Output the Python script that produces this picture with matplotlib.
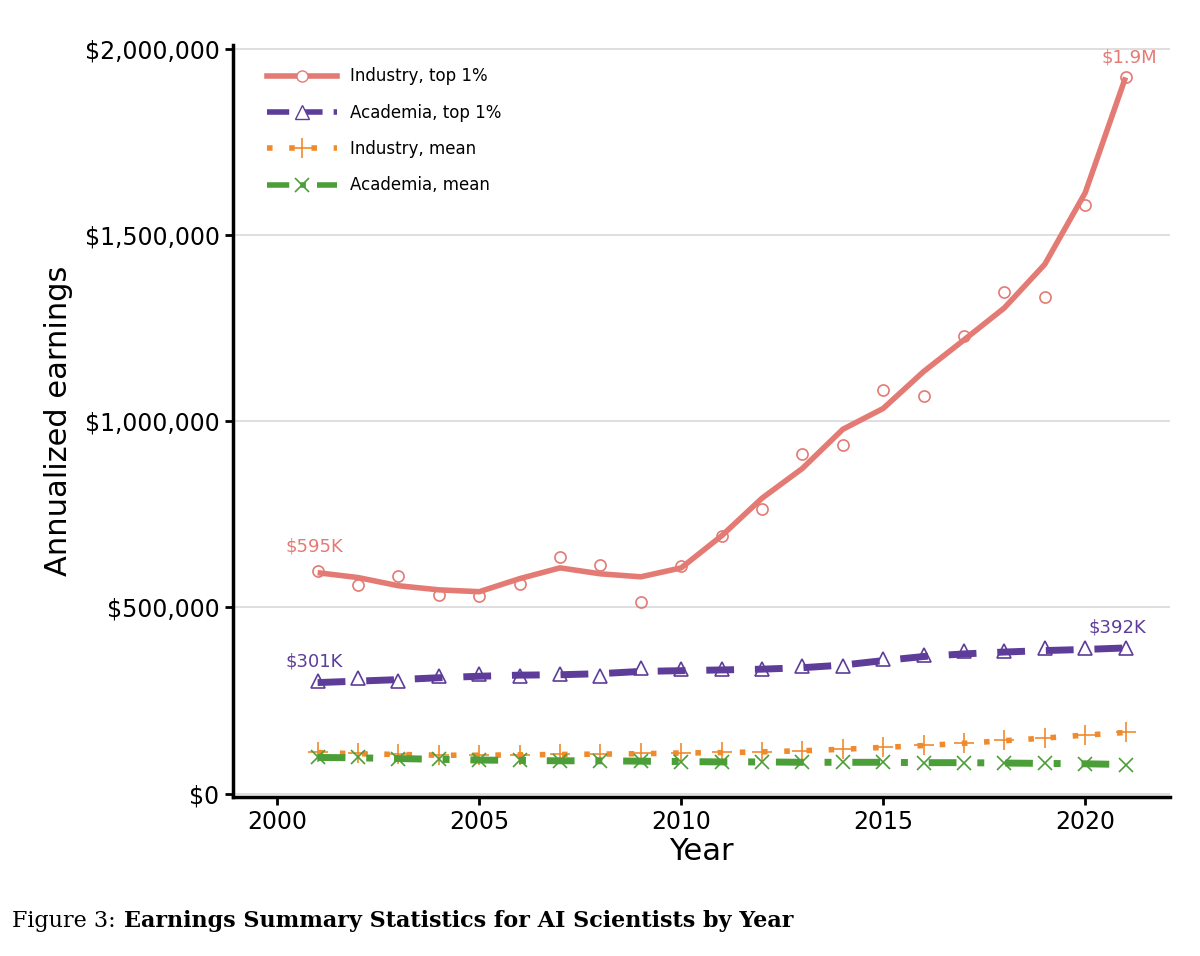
import matplotlib
matplotlib.use("Agg")
import matplotlib.pyplot as plt
from matplotlib.ticker import FuncFormatter
from matplotlib.lines import Line2D

years = list(range(2001, 2022))
ind_top_pts = [598, 561, 585, 534, 531, 563, 636, 614, 515, 611, 692, 764, 911, 935, 1084, 1068, 1228, 1348, 1332, 1581, 1923]
ind_top_line = [593, 580, 558, 547, 542, 577, 606, 590, 582, 606, 692, 793, 873, 978, 1034, 1133, 1218, 1304, 1421, 1613, 1923]
aca_top_pts = [301, 310, 301, 316, 320, 317, 322, 316, 337, 335, 335, 335, 342, 343, 362, 373, 383, 383, 390, 390, 392]
aca_top_line = [298, 302, 306, 311, 315, 318, 319, 322, 328, 330, 332, 334, 338, 345, 357, 368, 375, 380, 384, 387, 391]
ind_mean_pts = [112, 108, 105, 103, 103, 104, 105, 107, 108, 110, 111, 112, 115, 120, 125, 130, 137, 143, 150, 158, 165]
ind_mean_line = [110, 107, 105, 103, 103, 104, 105, 106, 107, 109, 110, 112, 115, 119, 124, 129, 135, 142, 149, 157, 164]
aca_mean_pts = [98, 97, 94, 92, 90, 89, 88, 88, 87, 86, 85, 85, 84, 84, 84, 83, 83, 82, 81, 80, 78]
aca_mean_line = [97, 96, 94, 92, 90, 89, 88, 88, 87, 86, 85, 85, 84, 84, 84, 83, 83, 82, 81, 80, 78]
labels = ["Industry, top 1%", "Academia, top 1%", "Industry, mean", "Academia, mean"]

def k(v): return [x * 1000 for x in v]

fig = plt.figure(figsize=(12, 9.56), dpi=100)
ax = fig.add_axes([0.194, 0.166, 0.781, 0.787])

c_red, c_pur, c_or, c_gr = "#E47A74", "#5E3C99", "#F08A2C", "#4C9F38"
handles = []
ax.plot(years, k(ind_top_line), color=c_red, lw=4, solid_capstyle="butt")
ax.plot(years, k(ind_top_pts), ls="none", marker="o", mfc="none", mec=c_red, ms=8, mew=1.2)
handles.append(Line2D([], [], color=c_red, lw=4, marker="o", mfc="white", mec=c_red, ms=8))
ax.plot(years, k(aca_top_line), color=c_pur, lw=5, ls=(0, (4, 3)))
ax.plot(years, k(aca_top_pts), ls="none", marker="^", mfc="none", mec=c_pur, ms=10, mew=1.2)
handles.append(Line2D([], [], color=c_pur, lw=4, ls=(0, (4, 2)), marker="^", mfc="white", mec=c_pur, ms=10))
ax.plot(years, k(ind_mean_line), color=c_or, lw=4, ls=(0, (1, 3)))
ax.plot(years, k(ind_mean_pts), ls="none", marker="+", color=c_or, ms=14, mew=1.2)
handles.append(Line2D([], [], color=c_or, lw=4, ls=(0, (1, 3)), marker="+", ms=14, mew=1.2))
ax.plot(years, k(aca_mean_line), color=c_gr, lw=5, ls=(0, (4, 3, 1, 3)))
ax.plot(years, k(aca_mean_pts), ls="none", marker="x", color=c_gr, ms=10, mew=1.2)
handles.append(Line2D([], [], color=c_gr, lw=4, ls=(0, (4, 2, 1, 2)), marker="x", ms=10, mew=1.2))

ax.legend(handles, labels, loc="upper left", bbox_to_anchor=(0.02, 0.99), frameon=False,
          fontsize=12, handlelength=4.2, labelspacing=1.1)

ax.text(years[0] - 0.8, ind_top_pts[0] * 1000 + 40000, "$595K", color=c_red, fontsize=13, ha="left", va="bottom")
ax.text(years[-1] + 0.1, ind_top_pts[-1] * 1000 + 30000, "$1.9M", color=c_red, fontsize=13, ha="center", va="bottom")
ax.text(years[0] - 0.8, aca_top_pts[0] * 1000 + 30000, "$301K", color=c_pur, fontsize=13, ha="left", va="bottom")
ax.text(years[-1] - 0.2, aca_top_pts[-1] * 1000 + 30000, "$392K", color=c_pur, fontsize=13, ha="center", va="bottom")

ax.set_xlim(1998.9, 2022.1)
ax.set_ylim(-10000, 2010000)
ax.set_xticks([2000, 2005, 2010, 2015, 2020])
ax.set_yticks([0, 500000, 1000000, 1500000, 2000000])
ax.yaxis.set_major_formatter(FuncFormatter(lambda v, p: "${:,.0f}".format(v)))
ax.grid(axis="y", color="#d9d9d9", lw=1.2)
ax.set_axisbelow(True)
for s in ["top", "right"]:
    ax.spines[s].set_visible(False)
for s in ["left", "bottom"]:
    ax.spines[s].set_linewidth(2.5)
ax.tick_params(labelsize=17, width=2, length=6)
ax.set_xlabel("Year", fontsize=22, labelpad=2)
ax.set_ylabel("Annualized earnings", fontsize=22, labelpad=8)

fig.text(0.01, 0.025, "Figure 3:", fontsize=16, family="DejaVu Serif", va="bottom")
fig.text(0.103, 0.025, "Earnings Summary Statistics for AI Scientists by Year", fontsize=16,
         family="DejaVu Serif", weight="bold", va="bottom")
fig.savefig("out.png")
